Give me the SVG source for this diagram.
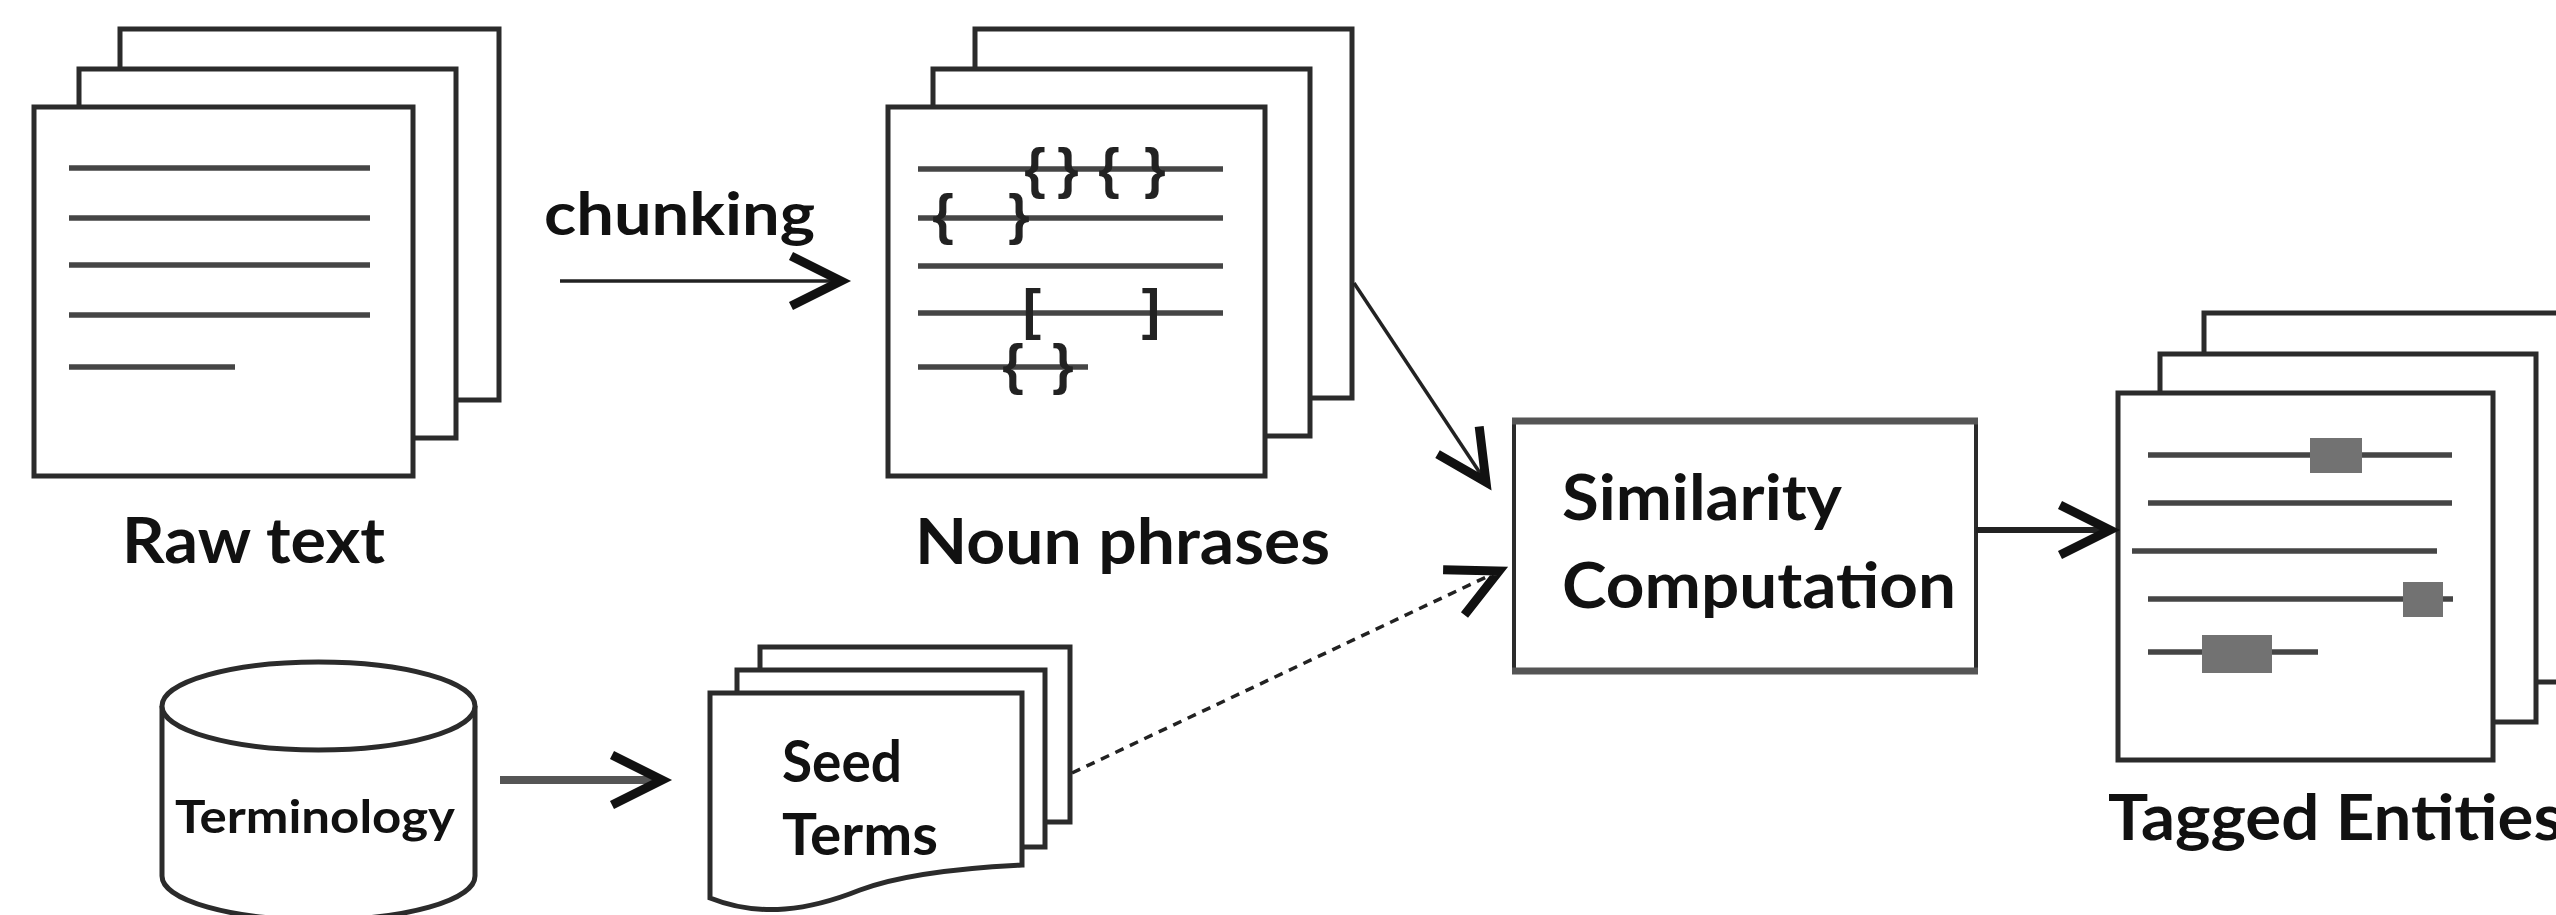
<svg xmlns="http://www.w3.org/2000/svg" width="2556" height="915" viewBox="0 0 2556 915">
<style>
.page{fill:#fff;stroke:#2b2b2b;stroke-width:5}
.tl{stroke:#454545;stroke-width:5.5;fill:none}
.tag{fill:#727272}
.lbl{font-family:Lato,"Liberation Sans",sans-serif;font-weight:700;fill:#111;font-size:64px}
.br{font-family:"Liberation Sans",sans-serif;font-weight:700;font-size:55px;fill:#222;text-anchor:middle}
.conn{fill:none;stroke:#222;stroke-width:3.5}
.band{stroke:#555;stroke-width:7}
</style>
<defs>
<marker id="chev" markerUnits="userSpaceOnUse" orient="auto" refX="0" refY="0" markerWidth="120" markerHeight="120" overflow="visible">
<path d="M-50,-25 L0,0 L-50,25" fill="none" stroke="#111" stroke-width="9" stroke-linejoin="miter"/>
</marker>
</defs>
<rect width="2556" height="915" fill="#fff"/>

<g id="raw-text">
<rect class="page" x="120" y="29" width="379" height="371"/>
<rect class="page" x="79" y="69" width="377" height="369"/>
<rect class="page" x="34" y="107" width="379" height="369"/>
<line class="tl" x1="69" y1="168" x2="370" y2="168"/>
<line class="tl" x1="69" y1="218" x2="370" y2="218"/>
<line class="tl" x1="69" y1="265" x2="370" y2="265"/>
<line class="tl" x1="69" y1="315" x2="370" y2="315"/>
<line class="tl" x1="69" y1="367" x2="235" y2="367"/>
<text class="lbl" x="122" y="563" textLength="263" lengthAdjust="spacingAndGlyphs">Raw text</text>
</g>

<g id="noun-phrases">
<rect class="page" x="975" y="29" width="377" height="369"/>
<rect class="page" x="933" y="69" width="377" height="367"/>
<rect class="page" x="888" y="107" width="377" height="369"/>
<line class="tl" x1="918" y1="169" x2="1223" y2="169"/>
<line class="tl" x1="918" y1="218" x2="1223" y2="218"/>
<line class="tl" x1="918" y1="266" x2="1223" y2="266"/>
<line class="tl" x1="918" y1="313" x2="1223" y2="313"/>
<line class="tl" x1="918" y1="367" x2="1088" y2="367"/>
<text class="br" x="1035" y="187">{</text>
<text class="br" x="1068" y="187">}</text>
<text class="br" x="1109" y="187">{</text>
<text class="br" x="1155" y="187">}</text>
<text class="br" x="943" y="233">{</text>
<text class="br" x="1019" y="233">}</text>
<text class="br" x="1032" y="328">[</text>
<text class="br" x="1151" y="328">]</text>
<text class="br" x="1013" y="383">{</text>
<text class="br" x="1063" y="383">}</text>
<text class="lbl" x="915" y="564" textLength="415" lengthAdjust="spacingAndGlyphs">Noun phrases</text>
</g>

<g id="similarity-computation">
<rect x="1514" y="420" width="462" height="252" fill="#fff" stroke="#2b2b2b" stroke-width="4"/>
<line class="band" x1="1512" y1="421" x2="1978" y2="421"/>
<line class="band" x1="1512" y1="671" x2="1978" y2="671"/>
<text class="lbl" x="1562" y="520" textLength="280" lengthAdjust="spacingAndGlyphs">Similarity</text>
<text class="lbl" x="1562" y="608" textLength="394" lengthAdjust="spacingAndGlyphs">Computation</text>
</g>

<g id="tagged-entities">
<rect class="page" x="2204" y="313" width="420" height="369"/>
<rect class="page" x="2160" y="354" width="376" height="368"/>
<rect class="page" x="2118" y="393" width="375" height="367"/>
<line class="tl" x1="2148" y1="455" x2="2452" y2="455"/>
<line class="tl" x1="2148" y1="503" x2="2452" y2="503"/>
<line class="tl" x1="2132" y1="551" x2="2437" y2="551"/>
<line class="tl" x1="2148" y1="599" x2="2453" y2="599"/>
<line class="tl" x1="2148" y1="652" x2="2318" y2="652"/>
<rect class="tag" x="2310" y="438" width="52" height="35"/>
<rect class="tag" x="2403" y="582" width="40" height="35"/>
<rect class="tag" x="2202" y="635" width="70" height="38"/>
<text class="lbl" x="2108" y="840" textLength="455" lengthAdjust="spacingAndGlyphs">Tagged Entities</text>
</g>

<g id="terminology">
<path d="M162,706 V876 A156.5,44 0 0 0 475,876 V706" fill="#fff" stroke="#2b2b2b" stroke-width="5"/>
<ellipse cx="318.5" cy="706" rx="156.5" ry="44" fill="#fff" stroke="#2b2b2b" stroke-width="5"/>
<text class="lbl" x="175" y="833" style="font-size:46px" textLength="280" lengthAdjust="spacingAndGlyphs">Terminology</text>
</g>

<g id="seed-terms">
<rect class="page" x="760" y="647" width="310" height="175"/>
<rect class="page" x="737" y="670" width="308" height="177"/>
<path class="page" d="M710,693 H1022 V865 C960,868 900,875 860,890 C810,910 760,918 710,898 Z"/>
<text class="lbl" x="782" y="782" style="font-size:58px" textLength="120" lengthAdjust="spacingAndGlyphs">Seed</text>
<text class="lbl" x="782" y="855" style="font-size:58px" textLength="156" lengthAdjust="spacingAndGlyphs">Terms</text>
</g>

<g id="connectors">
<text class="lbl" x="544" y="235" style="font-size:60px" textLength="271" lengthAdjust="spacingAndGlyphs">chunking</text>
<line class="conn" x1="560" y1="281" x2="841" y2="281" marker-end="url(#chev)"/>
<line class="conn" x1="1354" y1="283" x2="1486" y2="482" marker-end="url(#chev)"/>
<line class="conn" x1="1072" y1="773" x2="1499" y2="571" stroke-dasharray="9 7" marker-end="url(#chev)"/>
<line class="conn" x1="1976" y1="530" x2="2110" y2="530" style="stroke-width:6" marker-end="url(#chev)"/>
<line class="conn" x1="500" y1="780" x2="662" y2="780" style="stroke:#555;stroke-width:8" marker-end="url(#chev)"/>
</g>
</svg>
